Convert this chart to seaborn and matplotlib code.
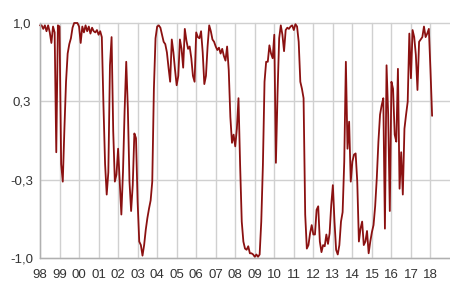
import numpy as np
import pandas as pd
import matplotlib
matplotlib.use("Agg")
import matplotlib.pyplot as plt
import seaborn as sns

# Monthly values, Jan 1998 -> Feb 2018
values = [
    0.98, 0.98, 0.95, 0.98, 0.93, 0.98, 0.92, 0.83, 0.97, 0.92, -0.10, 0.98,   # 1998
    0.97, -0.20, -0.35, 0.10, 0.50, 0.74, 0.82, 0.87, 0.96, 1.00, 1.00, 1.00,  # 1999
    0.97, 0.83, 0.97, 0.92, 0.98, 0.93, 0.97, 0.91, 0.96, 0.93, 0.92, 0.94,   # 2000
    0.90, 0.93, 0.88, 0.30, -0.20, -0.46, -0.27, 0.64, 0.88, 0.08, -0.35, -0.29,  # 2001
    -0.07, -0.35, -0.63, -0.27, 0.25, 0.67, 0.27, -0.35, -0.60, -0.38, 0.06, 0.02,  # 2002
    -0.52, -0.86, -0.89, -0.98, -0.89, -0.76, -0.66, -0.58, -0.51, -0.35, 0.44, 0.87,  # 2003
    0.97, 0.98, 0.96, 0.90, 0.84, 0.82, 0.75, 0.62, 0.50, 0.86, 0.75, 0.60,   # 2004
    0.47, 0.55, 0.86, 0.78, 0.62, 0.95, 0.85, 0.78, 0.80, 0.70, 0.55, 0.50,   # 2005
    0.92, 0.88, 0.87, 0.93, 0.75, 0.48, 0.55, 0.80, 0.98, 0.93, 0.86, 0.84,   # 2006
    0.80, 0.77, 0.79, 0.74, 0.78, 0.72, 0.68, 0.80, 0.60, 0.20, -0.02, 0.05,  # 2007
    -0.05, 0.10, 0.36, -0.21, -0.69, -0.86, -0.92, -0.93, -0.90, -0.96, -0.96, -0.97,  # 2008
    -0.99, -0.97, -0.99, -0.97, -0.69, -0.21, 0.50, 0.67, 0.67, 0.81, 0.74, 0.70,  # 2009
    0.90, -0.19, 0.40, 0.87, 0.98, 0.90, 0.76, 0.94, 0.96, 0.95, 0.97, 0.98,  # 2010
    0.94, 0.99, 0.97, 0.84, 0.50, 0.44, 0.36, -0.63, -0.92, -0.89, -0.79, -0.72,  # 2011
    -0.80, -0.80, -0.59, -0.56, -0.86, -0.95, -0.89, -0.90, -0.80, -0.88, -0.79, -0.55,  # 2012
    -0.38, -0.69, -0.93, -0.97, -0.89, -0.69, -0.61, -0.18, 0.67, -0.07, 0.16, -0.35,  # 2013
    -0.18, -0.12, -0.11, -0.35, -0.86, -0.75, -0.69, -0.89, -0.86, -0.77, -0.96, -0.86,  # 2014
    -0.78, -0.72, -0.56, -0.32, -0.01, 0.22, 0.30, 0.36, -0.75, 0.64, 0.22, -0.60,  # 2015
    0.50, 0.44, 0.05, -0.01, 0.61, -0.41, -0.10, -0.46, 0.10, 0.22, 0.33, 0.91,  # 2016
    0.53, 0.94, 0.88, 0.73, 0.43, 0.84, 0.86, 0.88, 0.97, 0.88, 0.91, 0.95,   # 2017
    0.60, 0.21,                                                                 # 2018
]
start_year = 1998
year_ticks = list(range(1998, 2019))
year_labels = [f"{y % 100:02d}" for y in year_ticks]
y_ticks = [-1.0, -1 / 3, 1 / 3, 1.0]
y_labels = ["-1,0", "-0,3", "0,3", "1,0"]

df = pd.DataFrame({
    "year": start_year + np.arange(len(values)) / 12.0,
    "value": values,
})

sns.set_style("white")
plt.rcParams["font.family"] = ["Liberation Sans", "DejaVu Sans"]

fig = plt.figure(figsize=(4.5, 2.91), dpi=100)
ax = fig.add_axes([40 / 450, 1 - 258 / 291, 410 / 450, 235 / 291])

sns.lineplot(data=df, x="year", y="value", color="#8b1111", linewidth=1.3, ax=ax)
for ln in ax.get_lines():
    ln.set_clip_on(False)

ax.set_xlim(1998, 2019)
ax.set_ylim(-1, 1)
ax.set_xticks(year_ticks, year_labels)
ax.set_yticks(y_ticks, y_labels)
ax.set_xlabel("")
ax.set_ylabel("")

ax.grid(True, color="#d0d0d0", linewidth=1.0)
ax.set_axisbelow(True)
for gl in ax.get_ygridlines() + ax.get_xgridlines():
    gl.set_clip_on(False)

for s in ["top", "right"]:
    ax.spines[s].set_visible(False)
for s in ["left", "bottom"]:
    ax.spines[s].set_color("#b0b0b0")
    ax.spines[s].set_linewidth(1.0)

ax.tick_params(axis="y", length=3.6, width=1.0, color="#b0b0b0", pad=9.4,
               labelsize=9.5, labelcolor="#333333")
for t in ax.get_yticklabels():
    t.set_ha("center")
ax.tick_params(axis="x", length=0, pad=8, labelsize=9.5, labelcolor="#333333")

fig.savefig("out.png", dpi=100)
